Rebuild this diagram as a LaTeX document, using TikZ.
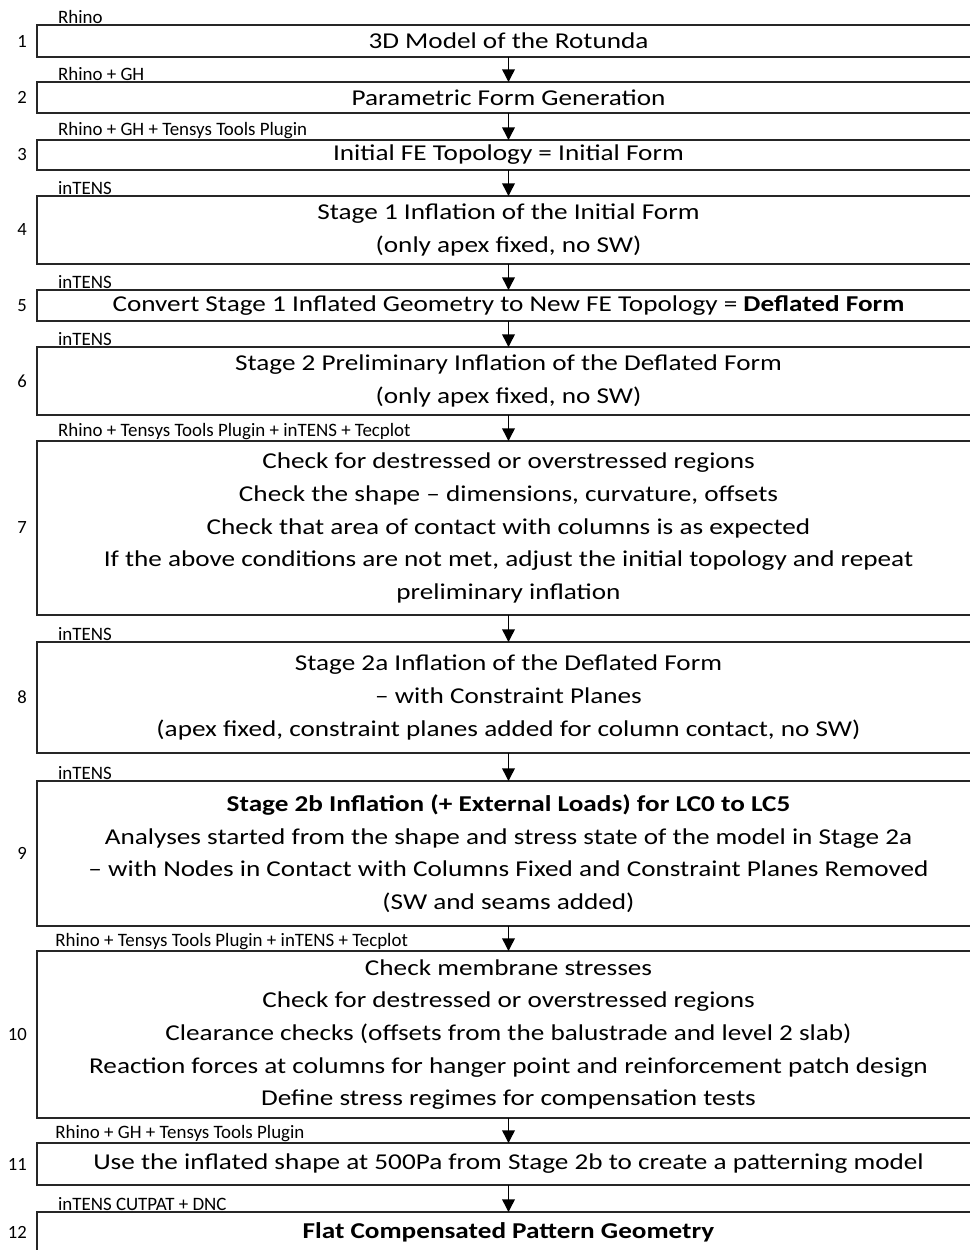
\documentclass[tikz,border=0pt]{standalone}
\usepackage{fontspec}
\setmainfont{Carlito}[FakeStretch=1.2]
\newfontfamily\toolfont{Carlito}
\usetikzlibrary{positioning, arrows.meta}
\tikzset{stepbox/.style={draw=black!85, line width=1.1pt, outer sep=0pt, inner sep=0pt,
    minimum width=707.25pt, align=center, font=\fontsize{17}{24.5}\selectfont},
  toollabel/.style={inner sep=0.6pt, font=\toolfont\fontsize{14.2}{16}\selectfont},
  stepnum/.style={inner sep=1pt, font=\toolfont\fontsize{14}{16}\selectfont},
  flow/.style={line width=1.1pt, -{Triangle[width=9.5pt,length=9.5pt]}}}

\begin{document}
\begin{tikzpicture}[x=0.75pt, y=-0.75pt]
            \useasboundingbox (0,0) rectangle (970,1250);
            \clip (0,0) rectangle (970,1250);
            % steps
            \node[stepbox, minimum height=24pt] (b1) at (508.5,41) {3D Model of the Rotunda};
            \node[stepbox, minimum height=23.25pt] (b2) [below = 18.75pt of b1] {Parametric Form Generation};
            \node[stepbox, minimum height=22.5pt] (b3) [below = 20.25pt of b2] {Initial FE Topology = Initial Form};
            \node[stepbox, minimum height=51pt] (b4) [below = 19.5pt of b3] {Stage 1 Inflation of the Initial Form\\(only apex fixed, no SW)};
            \node[stepbox, minimum height=23.25pt] (b5) [below = 19.5pt of b4] {Convert Stage 1 Inflated Geometry to New FE Topology = \textbf{Deflated Form}};
            \node[stepbox, minimum height=51pt] (b6) [below = 19.5pt of b5] {Stage 2 Preliminary Inflation of the Deflated Form\\(only apex fixed, no SW)};
            \node[stepbox, minimum height=130.5pt] (b7) [below = 19.5pt of b6] {Check for destressed or overstressed regions\\Check the shape -- dimensions, curvature, offsets\\Check that area of contact with columns is as expected\\If the above conditions are not met, adjust the initial topology and repeat\\preliminary inflation};
            \node[stepbox, minimum height=83.25pt] (b8) [below = 20.25pt of b7] {Stage 2a Inflation of the Deflated Form\\-- with Constraint Planes\\(apex fixed, constraint planes added for column contact, no SW)};
            \node[stepbox, minimum height=108.75pt] (b9) [below = 21pt of b8] {\textbf{Stage 2b Inflation (+ External Loads) for LC0 to LC5}\\Analyses started from the shape and stress state of the model in Stage 2a\\-- with Nodes in Contact with Columns Fixed and Constraint Planes Removed\\(SW and seams added)};
            \node[stepbox, minimum height=125.25pt] (b10) [below = 18.75pt of b9] {Check membrane stresses\\Check for destressed or overstressed regions\\Clearance checks (offsets from the balustrade and level 2 slab)\\Reaction forces at columns for hanger point and reinforcement patch design\\Define stress regimes for compensation tests};
            \node[stepbox, minimum height=31.5pt] (b11) [below = 18.75pt of b10] {Use the inflated shape at 500Pa from Stage 2b to create a patterning model};
            \node[stepbox, minimum height=30pt] (b12) [below = 20.25pt of b11] {\textbf{Flat Compensated Pattern Geometry}};

            % tools
            \node[toollabel] (t1) [above right = 0pt and 15pt of b1.north west] {Rhino};
            \node[toollabel] (t2) [above right = 0pt and 15pt of b2.north west] {Rhino + GH};
            \node[toollabel] (t3) [above right = 0pt and 15pt of b3.north west] {Rhino + GH + Tensys Tools Plugin};
            \node[toollabel] (t4) [above right = 0pt and 15pt of b4.north west] {inTENS};
            \node[toollabel] (t5) [above right = 0pt and 15pt of b5.north west] {inTENS};
            \node[toollabel] (t6) [above right = 0pt and 15pt of b6.north west] {inTENS};
            \node[toollabel] (t7) [above right = 0pt and 15pt of b7.north west] {Rhino + Tensys Tools Plugin + inTENS + Tecplot};
            \node[toollabel] (t8) [above right = 0pt and 15pt of b8.north west] {inTENS};
            \node[toollabel] (t9) [above right = 0pt and 15pt of b9.north west] {inTENS};
            \node[toollabel] (t10) [above right = 0pt and 13pt of b10.north west] {Rhino + Tensys Tools Plugin + inTENS + Tecplot};
            \node[toollabel] (t11) [above right = 0pt and 13pt of b11.north west] {Rhino + GH + Tensys Tools Plugin};
            \node[toollabel] (t12) [above right = 0pt and 15pt of b12.north west] {inTENS CUTPAT + DNC};

            % step numbers
            \node[stepnum] (n1) [left = 6.5pt of b1] {1};
            \node[stepnum] (n2) [left = 6.5pt of b2] {2};
            \node[stepnum] (n3) [left = 6.5pt of b3] {3};
            \node[stepnum] (n4) [left = 6.5pt of b4] {4};
            \node[stepnum] (n5) [left = 6.5pt of b5] {5};
            \node[stepnum] (n6) [left = 6.5pt of b6] {6};
            \node[stepnum] (n7) [left = 6.5pt of b7] {7};
            \node[stepnum] (n8) [left = 6.5pt of b8] {8};
            \node[stepnum] (n9) [left = 6.5pt of b9] {9};
            \node[stepnum] (n10) [left = 6.5pt of b10] {10};
            \node[stepnum] (n11) [left = 6.5pt of b11] {11};
            \node[stepnum] (n12) [left = 6.5pt of b12] {12};

            \path[flow]
            (b1) edge (b2)
            (b2) edge (b3)
            (b3) edge (b4)
            (b4) edge (b5)
            (b5) edge (b6)
            (b6) edge (b7)
            (b7) edge (b8)
            (b8) edge (b9)
            (b9) edge (b10)
            (b10) edge (b11)
            (b11) edge (b12);
        \end{tikzpicture}
\end{document}
